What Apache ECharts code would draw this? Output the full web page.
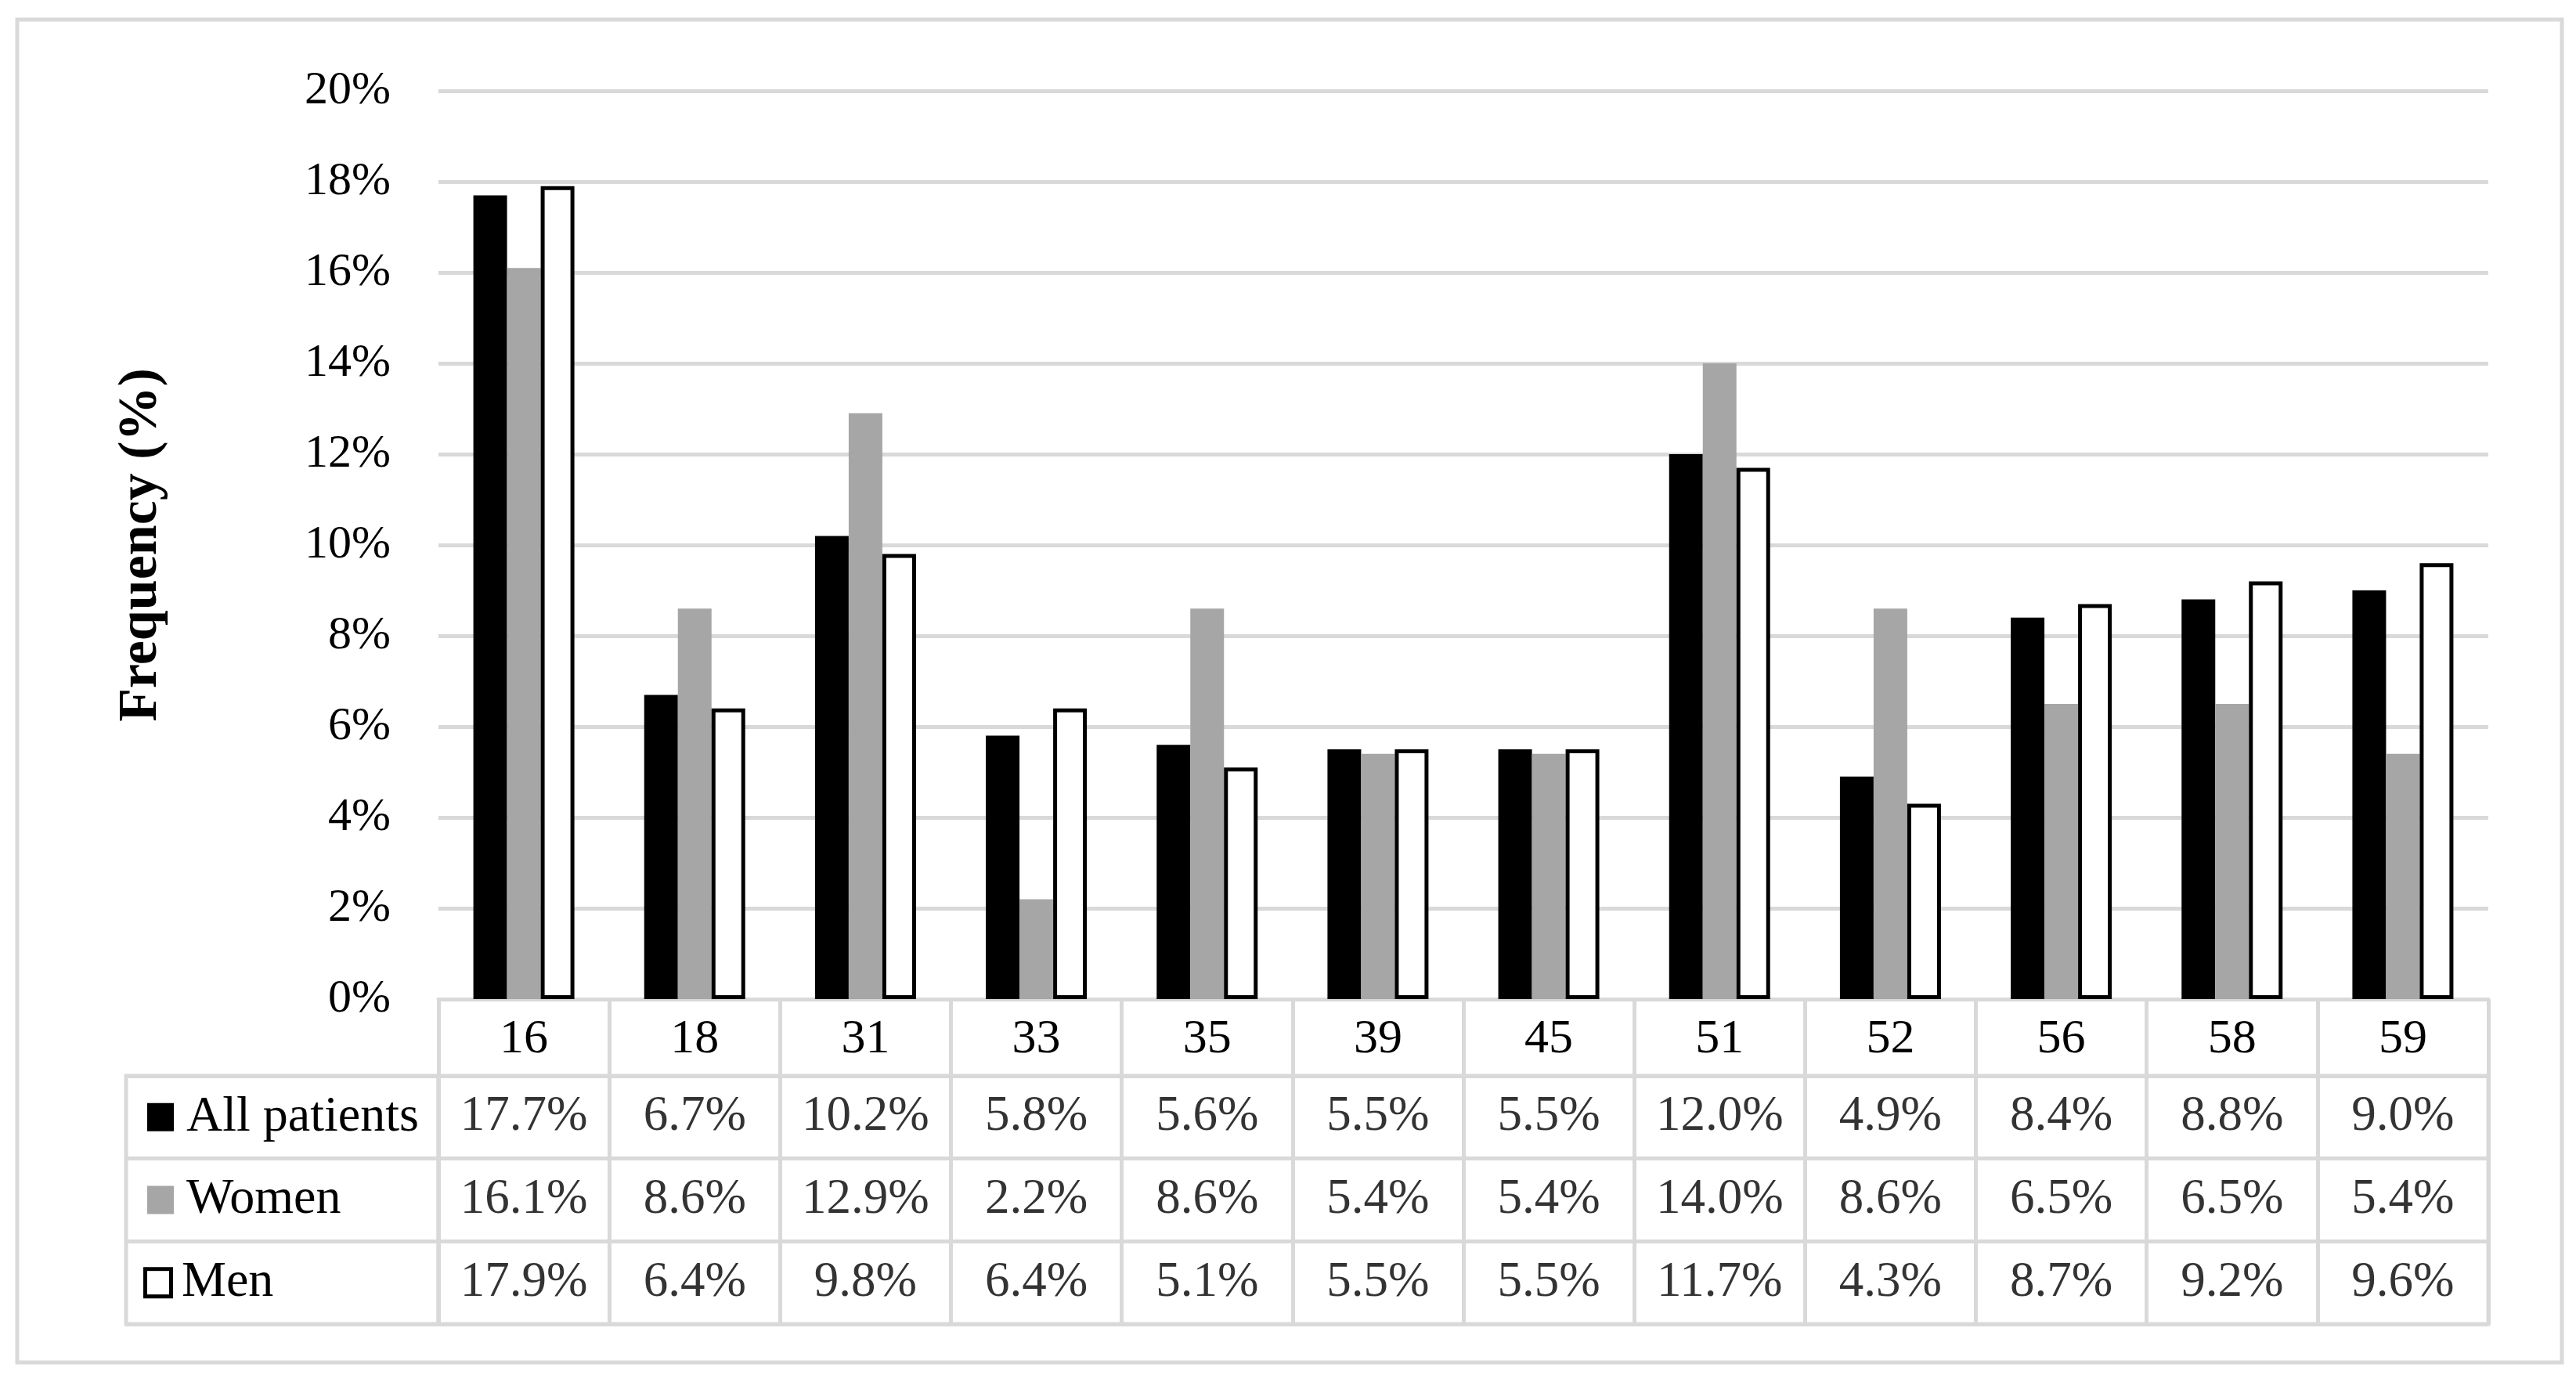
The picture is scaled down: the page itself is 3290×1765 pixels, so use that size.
<!DOCTYPE html>
<html>
<head>
    <meta charset="utf-8">
    <script src="https://cdn.jsdelivr.net/npm/echarts@6/dist/echarts.min.js"></script>
    <style>
        html, body { margin: 0; padding: 0; background: #fff; }
    </style>
</head>
<body>
<div id="main" style="width: 3290px;height:1765px;"></div>
<script type="text/javascript">
    // data
    var categories = ['16', '18', '31', '33', '35', '39', '45', '51', '52', '56', '58', '59'];
    var rowNames = ['All patients', 'Women', 'Men'];
    var allPatients = [17.7, 6.7, 10.2, 5.8, 5.6, 5.5, 5.5, 12.0, 4.9, 8.4, 8.8, 9.0];
    var women = [16.1, 8.6, 12.9, 2.2, 8.6, 5.4, 5.4, 14.0, 8.6, 6.5, 6.5, 5.4];
    var men = [17.9, 6.4, 9.8, 6.4, 5.1, 5.5, 5.5, 11.7, 4.3, 8.7, 9.2, 9.6];
    var yTicks = [0, 2, 4, 6, 8, 10, 12, 14, 16, 18, 20];

    var FONT = '"Liberation Serif", "DejaVu Serif", serif';
    var GRAY = '#d9d9d9';

    // cells of the data table: [column, row, value]
    var cells = [];
    [allPatients, women, men].forEach(function (arr, r) {
        for (var c = 0; c < arr.length; c++) {
            cells.push([c, r, arr[c]]);
        }
    });

    var chart = echarts.init(document.getElementById('main'));

    chart.setOption({
        backgroundColor: '#fff',
        animation: false,
        textStyle: {fontFamily: FONT},
        graphic: [{
            type: 'rect',
            shape: {x: 22, y: 25, width: 3250, height: 1715},
            style: {fill: null, stroke: GRAY, lineWidth: 5},
            silent: true
        }],
        grid: [
            {left: 560, right: 112, top: 116, bottom: 489, outerBoundsMode: 'none'},
            {left: 560, right: 112, top: 1374, bottom: 74, outerBoundsMode: 'none',
                show: true, borderColor: GRAY, borderWidth: 5},
            {left: 161, right: 2730, top: 1374, bottom: 74, outerBoundsMode: 'none',
                show: true, borderColor: GRAY, borderWidth: 5}
        ],
        xAxis: [
            {
                gridIndex: 0,
                type: 'category',
                data: categories,
                axisLine: {show: true, lineStyle: {color: GRAY, width: 5}},
                axisTick: {show: true, length: 98, interval: 0, lineStyle: {color: GRAY, width: 5}},
                axisLabel: {fontSize: 62, color: '#000', margin: 21, fontFamily: FONT},
                splitLine: {show: false}
            },
            {
                gridIndex: 1,
                type: 'category',
                data: categories,
                axisLine: {show: false},
                axisTick: {show: false},
                axisLabel: {show: false},
                splitLine: {show: true, interval: 0, lineStyle: {color: GRAY, width: 5}}
            },
            {
                gridIndex: 2,
                type: 'value',
                show: false
            }
        ],
        yAxis: [
            {
                gridIndex: 0,
                type: 'value',
                min: yTicks[0],
                max: yTicks[yTicks.length - 1],
                interval: 2,
                name: 'Frequency (%)',
                nameLocation: 'middle',
                nameGap: 344,
                nameTextStyle: {fontSize: 70, fontWeight: 'bold', color: '#000', fontFamily: FONT},
                axisLine: {show: false},
                axisTick: {show: false},
                axisLabel: {fontSize: 60, color: '#000', margin: 61, fontFamily: FONT,
                    formatter: '{value}%'},
                splitLine: {show: true, lineStyle: {color: GRAY, width: 5}}
            },
            {
                gridIndex: 1,
                type: 'category',
                data: rowNames,
                inverse: true,
                axisLine: {show: false},
                axisTick: {show: false},
                axisLabel: {show: false},
                splitLine: {show: true, interval: 0, lineStyle: {color: GRAY, width: 5}}
            },
            {
                gridIndex: 2,
                type: 'category',
                data: rowNames,
                inverse: true,
                axisLine: {show: false},
                axisTick: {show: false},
                splitLine: {show: true, interval: 0, lineStyle: {color: GRAY, width: 5}},
                axisLabel: {
                    inside: true,
                    margin: 27,
                    fontSize: 64,
                    color: '#000',
                    fontFamily: FONT,
                    formatter: function (v, i) {
                        var key = ['a', 'w', 'm'][i];
                        return '{' + key + '|}{t|' + v + '}';
                    },
                    rich: {
                        a: {width: 34, height: 36, backgroundColor: '#000'},
                        w: {width: 34, height: 36, backgroundColor: '#a6a6a6'},
                        m: {width: 28, height: 30, backgroundColor: '#fff', borderColor: '#000', borderWidth: 5},
                        t: {fontSize: 64, color: '#000', fontFamily: FONT, padding: [0, 0, 0, 16]}
                    }
                }
            }
        ],
        series: [
            {
                name: 'All patients',
                type: 'bar',
                xAxisIndex: 0, yAxisIndex: 0,
                data: allPatients,
                barWidth: 43,
                barGap: '0%',
                itemStyle: {color: '#000'}
            },
            {
                name: 'Women',
                type: 'bar',
                xAxisIndex: 0, yAxisIndex: 0,
                data: women,
                barWidth: 43,
                barGap: '0%',
                itemStyle: {color: '#a6a6a6'}
            },
            {
                name: 'Men',
                type: 'bar',
                xAxisIndex: 0, yAxisIndex: 0,
                data: men,
                barWidth: 43,
                barGap: '0%',
                itemStyle: {color: '#fff', borderColor: '#000', borderWidth: 5}
            },
            {
                name: 'table',
                type: 'scatter',
                xAxisIndex: 1, yAxisIndex: 1,
                data: cells,
                symbolSize: 0,
                silent: true,
                label: {
                    show: true,
                    position: 'inside',
                    fontSize: 63,
                    color: '#000',
                    fontFamily: FONT,
                    formatter: function (p) {
                        return p.value[2].toFixed(1) + '%';
                    }
                }
            }
        ]
    });
</script>
</body>
</html>
